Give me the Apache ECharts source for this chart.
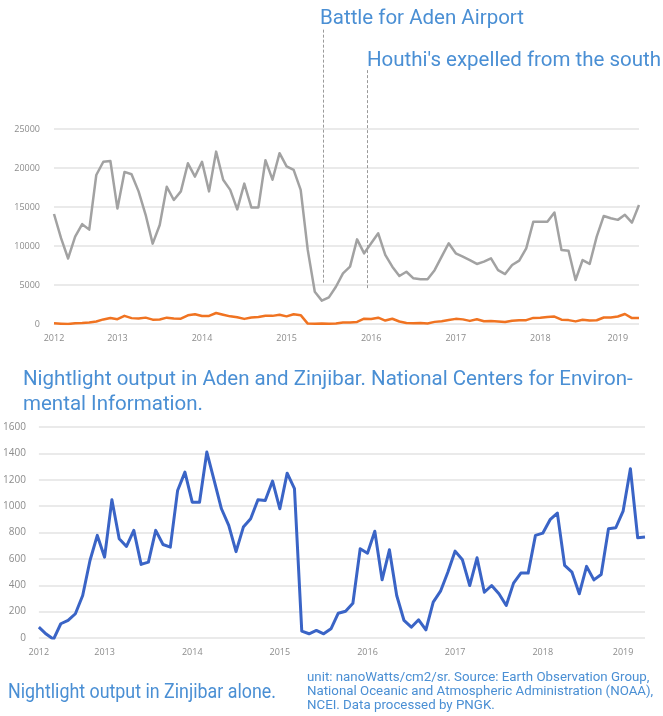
<!DOCTYPE html>
<html>
<head>
<meta charset="utf-8">
<script src="https://cdn.jsdelivr.net/npm/echarts@6/dist/echarts.min.js"></script>
<style>
  html, body { margin: 0; padding: 0; background: #fff; }
  #chart { width: 663px; height: 716px; }
</style>
</head>
<body>
<div id="chart"></div>
<script>
// Monthly VIIRS night-light sums, April 2012 onwards
const START_YEAR = 2012;
const START_MONTH = 4;

const aden = [
  14100, 11000, 8400, 11200, 12800, 12100, 19100, 20800, 20900, 14800,
  19500, 19200, 17000, 14000, 10300, 12700, 17600, 15900, 17000, 20600,
  18900, 20800, 17000, 22100, 18500, 17200, 14700, 18000, 14950, 14950,
  21000, 18500, 21900, 20200, 19750, 17200, 9500, 4140, 3000, 3420,
  4780, 6500, 7350, 10850, 9060, 10350, 11630, 8850, 7350, 6150,
  6700, 5860, 5730, 5730, 6900, 8630, 10350, 9060, 8630, 8200,
  7700, 7990, 8420, 6900, 6400, 7560, 8120, 9700, 13100, 13100,
  13100, 14300, 9500, 9400, 5640, 8200, 7700, 11200, 13850, 13550,
  13350, 14000, 13000, 15250
];

const zinjibar = [
  82, 30, -10, 108, 133, 184, 322, 588, 778, 613,
  1049, 753, 694, 816, 558, 575, 816, 709, 689, 1119,
  1258, 1030, 1030, 1410, 1195, 980, 854, 655, 841, 904,
  1049, 1043, 1190, 980, 1250, 1132, 52, 32, 57, 32,
  70, 188, 203, 264, 677, 643, 810, 441, 669, 322,
  133, 82, 138, 62, 272, 355, 499, 659, 593, 398,
  608, 347, 398, 335, 247, 416, 492, 492, 778, 795,
  897, 947, 550, 499, 335, 543, 441, 482, 828, 836,
  962, 1284, 760, 765
];

// Year tick labels and the month index each one sits on
const yearLabels = ['2012', '2013', '2014', '2015', '2016', '2017', '2018', '2019'];
const yearLabelIdx = [0, 9, 21, 33, 45, 57, 69, 80];

// Event markers (month position, lower and upper end in Aden units)
const eventNames = ['Battle for Aden Airport', "Houthi's expelled from the south"];
const eventPos = [38.2, 44.45];
const eventLow = [5300, 4600];
const eventHigh = [37900, 32800];

const months = aden.map((_, i) => {
  const m = START_MONTH - 1 + i;
  const y = START_YEAR + Math.floor(m / 12);
  return y + '-' + String((m % 12) + 1).padStart(2, '0');
});

const TEXT_BLUE = '#4a8fd4';
const AXIS_GREY = '#8c8c8c';
const GRID_GREY = '#e3e3e3';

const TOP_MAX = 25000;
const TOP_GRID = { left: 54, right: 24, top: 129, height: 195 };
const BOT_GRID = { left: 37, right: 18, top: 427, height: 211 };
const MARK_GRID = { left: 54, right: 24, top: 28, height: 296 };
const markMax = TOP_MAX * MARK_GRID.height / TOP_GRID.height;

function yearAxis(gridIndex) {
  return {
    type: 'category', gridIndex, data: months, boundaryGap: false,
    axisLine: { show: false }, axisTick: { show: false },
    axisLabel: {
      interval: (i) => yearLabelIdx.includes(i),
      formatter: (v, i) => yearLabels[yearLabelIdx.indexOf(i)] || '',
      color: AXIS_GREY, fontSize: 9, fontFamily: 'Open Sans', margin: 10
    },
    splitLine: { show: false }
  };
}

const plainNumber = (v) => String(v);

const chart = echarts.init(document.getElementById('chart'), null, { renderer: 'canvas' });

const textStyle = (t, x, y, size, extra) => Object.assign({
  type: 'text', x, y, silent: true,
  style: { text: t, fill: TEXT_BLUE, font: size + 'px Roboto', verticalAlign: 'middle' }
}, extra || {});

chart.setOption({
  backgroundColor: '#fff',
  animation: false,
  grid: [
    Object.assign({}, TOP_GRID),
    Object.assign({}, BOT_GRID),
    Object.assign({}, MARK_GRID)
  ],
  xAxis: [
    yearAxis(0),
    yearAxis(1),
    { type: 'value', gridIndex: 2, min: 0, max: aden.length - 1, show: false }
  ],
  yAxis: [
    {
      type: 'value', gridIndex: 0, min: 0, max: TOP_MAX, interval: 5000,
      axisLine: { show: false }, axisTick: { show: false },
      axisLabel: { color: AXIS_GREY, fontSize: 9, fontFamily: 'Open Sans', margin: 14, formatter: plainNumber },
      splitLine: { lineStyle: { color: GRID_GREY, width: 1.5 } }
    },
    {
      type: 'value', gridIndex: 1, min: 0, max: 1600, interval: 200,
      axisLine: { show: false }, axisTick: { show: false },
      axisLabel: { color: AXIS_GREY, fontSize: 10, fontFamily: 'Open Sans', margin: 13, formatter: plainNumber },
      splitLine: { lineStyle: { color: GRID_GREY, width: 1.5 } }
    },
    { type: 'value', gridIndex: 2, min: 0, max: markMax, show: false }
  ],
  series: [
    {
      name: 'Aden', type: 'line', xAxisIndex: 0, yAxisIndex: 0, data: aden,
      symbol: 'none', lineStyle: { color: '#a2a2a2', width: 2.5, join: 'round' }
    },
    {
      name: 'Zinjibar', type: 'line', xAxisIndex: 0, yAxisIndex: 0, data: zinjibar,
      symbol: 'none', lineStyle: { color: '#f07321', width: 2.5, join: 'round' }
    },
    {
      name: 'Zinjibar alone', type: 'line', xAxisIndex: 1, yAxisIndex: 1, data: zinjibar,
      symbol: 'none', lineStyle: { color: '#3a64c6', width: 3, join: 'round' }
    },
    {
      name: 'events', type: 'line', xAxisIndex: 2, yAxisIndex: 2, data: [],
      markLine: {
        silent: true, symbol: 'none', animation: false,
        label: { show: false },
        lineStyle: { color: '#9a9a9a', width: 1, type: [3, 2] },
        data: eventNames.map((n, k) => [
          { name: n, coord: [eventPos[k], eventLow[k]] },
          { coord: [eventPos[k], eventHigh[k]] }
        ])
      }
    }
  ],
  graphic: [
    textStyle(eventNames[0], 320, 19, 20.5),
    textStyle(eventNames[1], 367, 61, 20.5),
    textStyle('Nightlight output in Aden and Zinjibar. National Centers for Environ-', 23, 380, 20.5),
    textStyle('mental Information.', 23, 405, 20.5),
    textStyle('Nightlight output in Zinjibar alone.', 8, 693, 20.5, { scaleX: 0.87 }),
    textStyle('unit: nanoWatts/cm2/sr. Source: Earth Observation Group,', 307, 678, 13.3),
    textStyle('National Oceanic and Atmospheric Administration (NOAA),', 307, 692, 13.3),
    textStyle('NCEI. Data processed by PNGK.', 307, 706, 13.3)
  ]
});
</script>
</body>
</html>
